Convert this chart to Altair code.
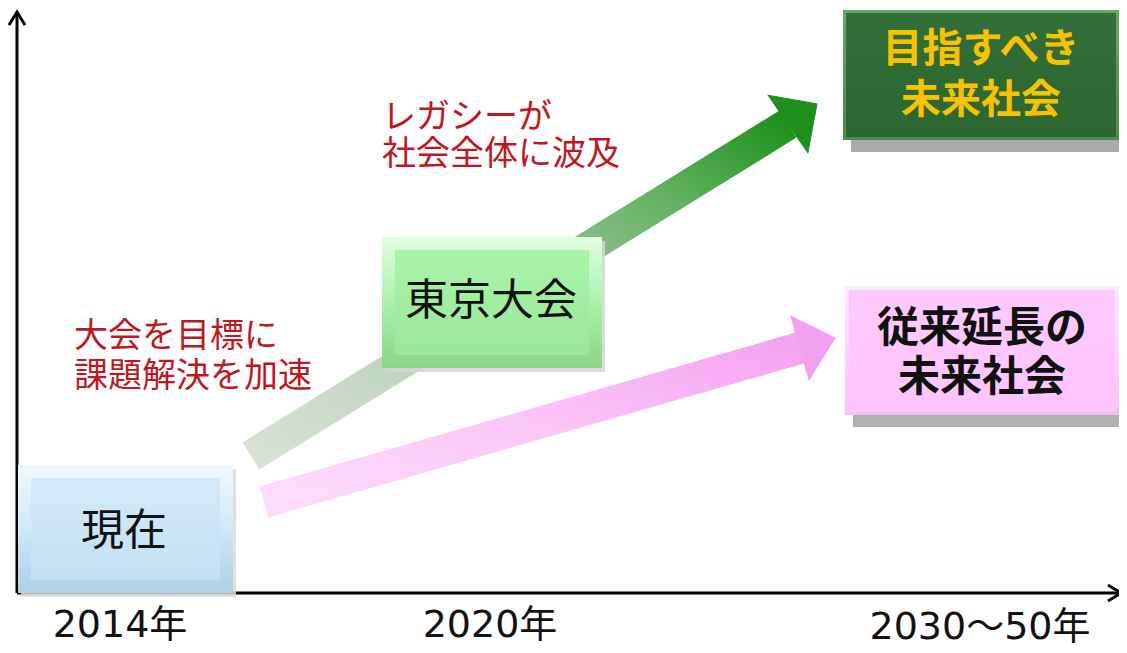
import math
import altair as alt
import pandas as pd

# ---------------- data (reference pixel coordinates) ----------------
W, H = 1111, 645
X_DOMAIN = [8, 8 + W]
Y_DOMAIN = [8, 8 + H]

# axes (origin corner, top end of y axis, right end of x axis)
axis_origin = (17, 593)
axis_y_top = 12
axis_x_right = 1121

# boxes
box_names = ["現在", "東京大会", "目指すべき未来社会", "従来延長の未来社会"]
box_x1 = [18, 382, 843, 845]
box_x2 = [233, 602, 1119, 1119]
box_y1 = [465, 237, 10, 286]
box_y2 = [593, 368, 140, 415]

# arrows: shaft start, head base midpoint, tip, half width of head
arrow_names = ["green", "pink"]
arrow_x0 = [251, 264]
arrow_y0 = [456, 502]
arrow_xb = [788, 800]
arrow_yb = [124, 348]
arrow_xt = [817, 835]
arrow_yt = [104, 338]
arrow_half_w = [35, 33]

# texts in boxes
box_text = ["現在", "東京大会", "目指すべき", "未来社会", "従来延長の", "未来社会"]
box_text_x = [124, 491, 981, 981, 982, 982]
box_text_y = [532, 302, 50, 101, 329, 378]

# red annotations
note_text = ["レガシーが", "社会全体に波及", "大会を目標に", "課題解決を加速"]
note_x = [382, 382, 74, 74]
note_y = [118, 155, 337, 377]

# time labels
time_labels = ["2014年", "2020年", "2030～50年"]
time_x = [120, 490, 980]
time_y = [626, 626, 628]

xs = alt.Scale(domain=X_DOMAIN, range=[0, W], nice=False, zero=False)
ys = alt.Scale(domain=Y_DOMAIN, range=[0, H], nice=False, zero=False)
FONT = "Noto Sans CJK JP"
LABEL_FONT = "DejaVu Sans, Noto Sans CJK JP"


def X(f="x"):
    return alt.X(f"{f}:Q", scale=xs, axis=None)


def Y(f="y"):
    return alt.Y(f"{f}:Q", scale=ys, axis=None)


def grad(stops, x1=0, y1=0, x2=0, y2=1):
    return {"gradient": "linear", "x1": x1, "y1": y1, "x2": x2, "y2": y2,
            "stops": [{"offset": o, "color": c} for o, c in stops]}


layers = []

# ---------------- axes ----------------
ox, oy = axis_origin
axes_df = pd.DataFrame({"x": [ox, ox], "y": [oy, oy], "x2": [ox, axis_x_right],
                        "y2": [axis_y_top + 1, oy]})
layers.append(alt.Chart(axes_df).mark_rule(color="black", strokeWidth=3).encode(
    x=X(), y=Y(), x2="x2:Q", y2="y2:Q"))
chev_df = pd.DataFrame({
    "g": ["t", "t", "t", "r", "r", "r"],
    "o": [0, 1, 2, 0, 1, 2],
    "x": [ox - 8, ox, ox + 8, axis_x_right - 13, axis_x_right, axis_x_right - 13],
    "y": [axis_y_top + 13, axis_y_top, axis_y_top + 13, oy - 8, oy, oy + 8],
})
layers.append(alt.Chart(chev_df).mark_line(color="black", strokeWidth=3,
                                           strokeJoin="miter").encode(
    x=X(), y=Y(), detail="g:N", order="o:Q"))

# ---------------- arrow shafts ----------------
shaft_grads = [
    grad([(0, "#d7e2d5"), (0.25, "#c4d5c2"), (0.6, "#8fbd8d"), (0.78, "#62b260"),
          (1, "#1e911c")], 0, 1, 1, 0),
    grad([(0, "#fddcfb"), (0.5, "#fbc6f8"), (1, "#f5a3f2")], 0, 1, 1, 0),
]
for i in range(2):
    df = pd.DataFrame({"x": [arrow_x0[i], arrow_xb[i]], "y": [arrow_y0[i], arrow_yb[i]]})
    layers.append(alt.Chart(df).mark_line(stroke=shaft_grads[i], strokeWidth=32,
                                          strokeCap="butt").encode(x=X(), y=Y()))

# arrow heads
head_colors = ["#1f8f1d", "#f3a0f0"]
for i in range(2):
    dx = arrow_xt[i] - arrow_xb[i]
    dy = arrow_yt[i] - arrow_yb[i]
    length = math.hypot(dx, dy)
    ang = math.degrees(math.atan2(dy, dx)) % 360
    k = length / arrow_half_w[i]
    path = f"M 0 -1 L {k:.3f} 0 L 0 1 Z"
    df = pd.DataFrame({"x": [arrow_xb[i]], "y": [arrow_yb[i]]})
    layers.append(alt.Chart(df).mark_point(
        shape=path, size=(2 * arrow_half_w[i]) ** 2, filled=True, opacity=1,
        fill=head_colors[i], stroke=head_colors[i], strokeWidth=1, angle=ang
    ).encode(x=X(), y=Y()))

# ---------------- boxes ----------------
box_df = pd.DataFrame({"name": box_names, "x": box_x1, "x2": box_x2,
                       "y": box_y1, "y2": box_y2})

# shadows
shadow_off = [(3, 4, "#d9d9d9"), (3, 4, "#d5d5d5"), (8, 12, "#9b9b9b"), (8, 12, "#a3a3a3")]
for i, (sx, sy, c) in enumerate(shadow_off):
    r = box_df.iloc[[i]].copy()
    r["x"] += sx; r["x2"] += sx; r["y"] += sy; r["y2"] += sy
    layers.append(alt.Chart(r).mark_rect(fill=c, opacity=0.85).encode(
        x=X(), x2="x2:Q", y=Y(), y2="y2:Q"))

outer_fill = [
    grad([(0, "#f2f9fe"), (0.5, "#cfe7f8"), (1, "#aecfe6")]),
    grad([(0, "#e2fde2"), (0.5, "#aaf2aa"), (1, "#8ad58a")]),
    grad([(0, "#6aa86a"), (1, "#4a8a4a")]),
    grad([(0, "#ffeaff"), (1, "#f6c0f6")]),
]
inner_fill = [
    grad([(0, "#d3eaf9"), (1, "#c3e0f4")]),
    grad([(0, "#a9f4a9"), (1, "#99e799")]),
    grad([(0, "#336f38"), (1, "#2c6631")]),
    grad([(0, "#ffcaff"), (1, "#fcc4fc")]),
]
insets = [(13, 13), (13, 13), (3, 3), (4, 4)]
for i in range(4):
    r = box_df.iloc[[i]].copy()
    layers.append(alt.Chart(r).mark_rect(fill=outer_fill[i]).encode(
        x=X(), x2="x2:Q", y=Y(), y2="y2:Q"))
    ri = r.copy()
    ix, iy = insets[i]
    ri["x"] += ix; ri["x2"] -= ix; ri["y"] += iy; ri["y2"] -= iy
    layers.append(alt.Chart(ri).mark_rect(fill=inner_fill[i]).encode(
        x=X(), x2="x2:Q", y=Y(), y2="y2:Q"))

# ---------------- texts ----------------
bt = pd.DataFrame({"t": box_text, "x": box_text_x, "y": box_text_y})
layers.append(alt.Chart(bt.iloc[0:2]).mark_text(
    font=FONT, fontSize=43, color="#111111", align="center", baseline="middle").encode(
    x=X(), y=Y(), text="t:N"))
layers.append(alt.Chart(bt.iloc[2:4]).mark_text(
    font=FONT, fontSize=40, fontWeight="bold", color="#f7c200", align="center",
    baseline="middle").encode(x=X(), y=Y(), text="t:N"))
layers.append(alt.Chart(bt.iloc[4:6]).mark_text(
    font=FONT, fontSize=42, fontWeight="bold", color="#111111", align="center",
    baseline="middle").encode(x=X(), y=Y(), text="t:N"))

nt = pd.DataFrame({"t": note_text, "x": note_x, "y": note_y})
layers.append(alt.Chart(nt).mark_text(
    font=FONT, fontSize=34, color="#bf1622", align="left", baseline="middle").encode(
    x=X(), y=Y(), text="t:N"))

tl = pd.DataFrame({"t": time_labels, "x": time_x, "y": time_y})
layers.append(alt.Chart(tl).mark_text(
    font=LABEL_FONT, fontSize=38, color="#111111", align="center",
    baseline="middle").encode(x=X(), y=Y(), text="t:N"))

chart = alt.layer(*layers).properties(
    width=W, height=H, padding=0, autosize=alt.AutoSizeParams(type="none"),
    background="white"
).configure_view(stroke=None)

chart.save("out.html", embed_options={"renderer": "svg", "actions": False})
